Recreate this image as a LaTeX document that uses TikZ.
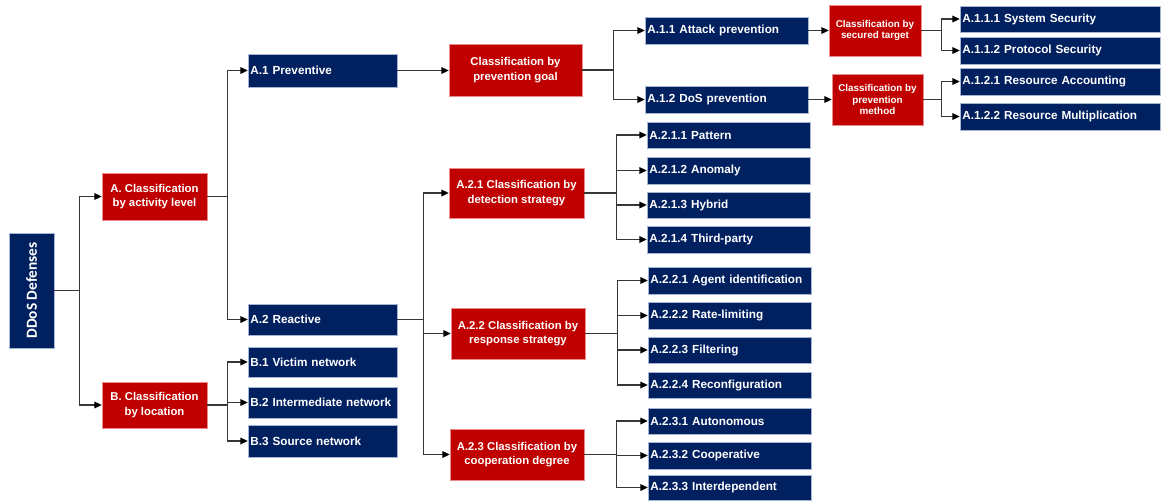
\documentclass[tikz,border=0pt]{standalone}
\usepackage{fontspec}
\setmainfont{Liberation Sans}
\newfontfamily\titlefont{Carlito}
\usetikzlibrary{arrows.meta}

\definecolor{navyfill}{RGB}{0,32,96}
\definecolor{redfill}{RGB}{192,0,0}
\definecolor{navyedge}{RGB}{165,180,210}
\definecolor{rededge}{RGB}{235,140,140}
\definecolor{linkgray}{RGB}{55,55,55}

\tikzset{
  navystyle/.style={fill=navyfill, draw=navyedge, line width=0.4pt, text=white,
    font=\fontsize{8.8}{10.5}\selectfont\bfseries, align=left,
    inner xsep=1.8pt, inner ysep=0pt},
  redstyle/.style={fill=redfill, draw=rededge, line width=0.4pt, text=white,
    font=\fontsize{8.5}{10.8}\selectfont\bfseries, align=center, inner sep=0pt},
  redsmall/.style={redstyle, font=\fontsize{7.4}{8.8}\selectfont\bfseries},
  rootstyle/.style={fill=navyfill, draw=navyedge, line width=0.4pt, text=white,
    font=\fontsize{11.5}{13}\titlefont\bfseries, inner sep=0pt},
  link/.style={draw=linkgray, line width=0.9pt},
  arrowlink/.style={link, -{Triangle[length=5.5pt,width=5pt,color=black]}}
}

% navy box given by its corners (in px units), one line of text set flush left
\newcommand\navybox[6]{%
  \pgfmathsetmacro\tw{(#4-#2)*0.75-3.6}%
  \pgfmathsetmacro\bh{(#5-#3)*0.75}%
  \node[navystyle, text width=\tw pt, minimum height=\bh pt]
    (#1) at ({(#2+#4)/2},{(#3+#5)/2}) {\mbox{#6}};}

% red box given by its corners (in px units), text centred
\newcommand\redbox[7][redstyle]{%
  \pgfmathsetmacro\bw{(#5-#3)*0.75}%
  \pgfmathsetmacro\bh{(#6-#4)*0.75}%
  \node[#1, minimum width=\bw pt, minimum height=\bh pt]
    (#2) at ({(#3+#5)/2},{(#4+#6)/2}) {#7};}

\begin{document}
\begin{tikzpicture}[x=0.75pt, y=-0.75pt]
\useasboundingbox (0,0) rectangle (1161,501);

% root
\node[rootstyle, rotate=90, minimum width=86.25pt, minimum height=33.75pt]
  (ddos) at (31.5,290.5) {DDoS Defenses};

% first level
\redbox{A}{102}{173}{207}{220}{A. Classification\\by activity level}
\redbox{B}{102}{382}{207}{428}{B. Classification\\by location}

% second level
\navybox{A1}{248}{54}{397}{87}{A.1 Preventive}
\navybox{A2}{248}{304}{397}{335}{A.2 Reactive}
\navybox{B1}{248}{347}{397}{377}{B.1 Victim network}
\navybox{B2}{248}{387}{397}{418}{B.2 Intermediate network}
\navybox{B3}{248}{425}{397}{457}{B.3 Source network}

% preventive branch
\redbox{PG}{449}{44}{582}{96}{Classification by\\prevention goal}
\navybox{A11}{645}{17}{808}{44}{A.1.1 Attack prevention}
\navybox{A12}{645}{86}{808}{113}{A.1.2 DoS prevention}
\redbox[redsmall]{ST}{829}{5}{921}{56}{Classification by\\secured target}
\redbox[redsmall]{PM}{832}{74}{923}{125}{Classification by\\prevention\\method}
\navybox{A111}{960}{6}{1160}{32}{A.1.1.1 System Security}
\navybox{A112}{960}{37}{1160}{64}{A.1.1.2 Protocol Security}
\navybox{A121}{960}{68}{1160}{95}{A.1.2.1 Resource Accounting}
\navybox{A122}{960}{103}{1160}{130}{A.1.2.2 Resource Multiplication}

% reactive branch
\redbox{A21}{449}{168}{584}{218}{A.2.1 Classification by\\detection strategy}
\redbox{A22}{451}{308}{585}{359}{A.2.2 Classification by\\response strategy}
\redbox{A23}{450}{429}{584}{480}{A.2.3 Classification by\\cooperation degree}

\navybox{A211}{647}{122}{810}{148}{A.2.1.1 Pattern}
\navybox{A212}{647}{157}{810}{184}{A.2.1.2 Anomaly}
\navybox{A213}{647}{192}{810}{218}{A.2.1.3 Hybrid}
\navybox{A214}{647}{226}{810}{253}{A.2.1.4 Third-party}

\navybox{A221}{648}{267}{811}{294}{A.2.2.1 Agent identification}
\navybox{A222}{648}{302}{811}{329}{A.2.2.2 Rate-limiting}
\navybox{A223}{648}{337}{811}{363}{A.2.2.3 Filtering}
\navybox{A224}{648}{372}{811}{398}{A.2.2.4 Reconfiguration}

\navybox{A231}{648}{408}{811}{434}{A.2.3.1 Autonomous}
\navybox{A232}{648}{442}{811}{469}{A.2.3.2 Cooperative}
\navybox{A233}{648}{475}{811}{500}{A.2.3.3 Interdependent}

% connectors
\draw[link] (ddos.south) -- ++(25,0) coordinate (jroot);
\draw[arrowlink] (jroot) |- (A.west);
\draw[arrowlink] (jroot) |- (B.west);

\draw[link] (A.east) -- ++(20,0) coordinate (jA);
\draw[arrowlink] (jA) |- (A1.west);
\draw[arrowlink] (jA) |- (A2.west);

\draw[link] (B.east) -- ++(20,0) coordinate (jB);
\foreach \c in {B1,B2,B3} \draw[arrowlink] (jB) |- (\c.west);

\draw[arrowlink] (A1.east) -- (A1.east -| PG.west);
\draw[link] (PG.east) -- ++(31,0) coordinate (jPG);
\draw[arrowlink] (jPG) |- (A11.west);
\draw[arrowlink] (jPG) |- (A12.west);

\draw[arrowlink] (A11.east) -- (A11.east -| ST.west);
\draw[arrowlink] (A12.east) -- (A12.east -| PM.west);

\draw[link] (ST.east) -- ++(20,0) coordinate (jST);
\draw[arrowlink] (jST) |- (A111.west);
\draw[arrowlink] (jST) |- (A112.west);
\draw[link] (PM.east) -- ++(18,0) coordinate (jPM);
\draw[arrowlink] (jPM) |- (A121.west);
\draw[arrowlink] (jPM) |- (A122.west);

\draw[link] (A2.east) -- ++(26,0) coordinate (jA2);
\foreach \c in {A21,A22,A23} \draw[arrowlink] (jA2) |- (\c.west);

\draw[link] (A21.east) -- ++(32,0) coordinate (j21);
\foreach \c in {A211,A212,A213,A214} \draw[arrowlink] (j21) |- (\c.west);
\draw[link] (A22.east) -- ++(32,0) coordinate (j22);
\foreach \c in {A221,A222,A223,A224} \draw[arrowlink] (j22) |- (\c.west);
\draw[link] (A23.east) -- ++(32,0) coordinate (j23);
\foreach \c in {A231,A232,A233} \draw[arrowlink] (j23) |- (\c.west);
\end{tikzpicture}
\end{document}
